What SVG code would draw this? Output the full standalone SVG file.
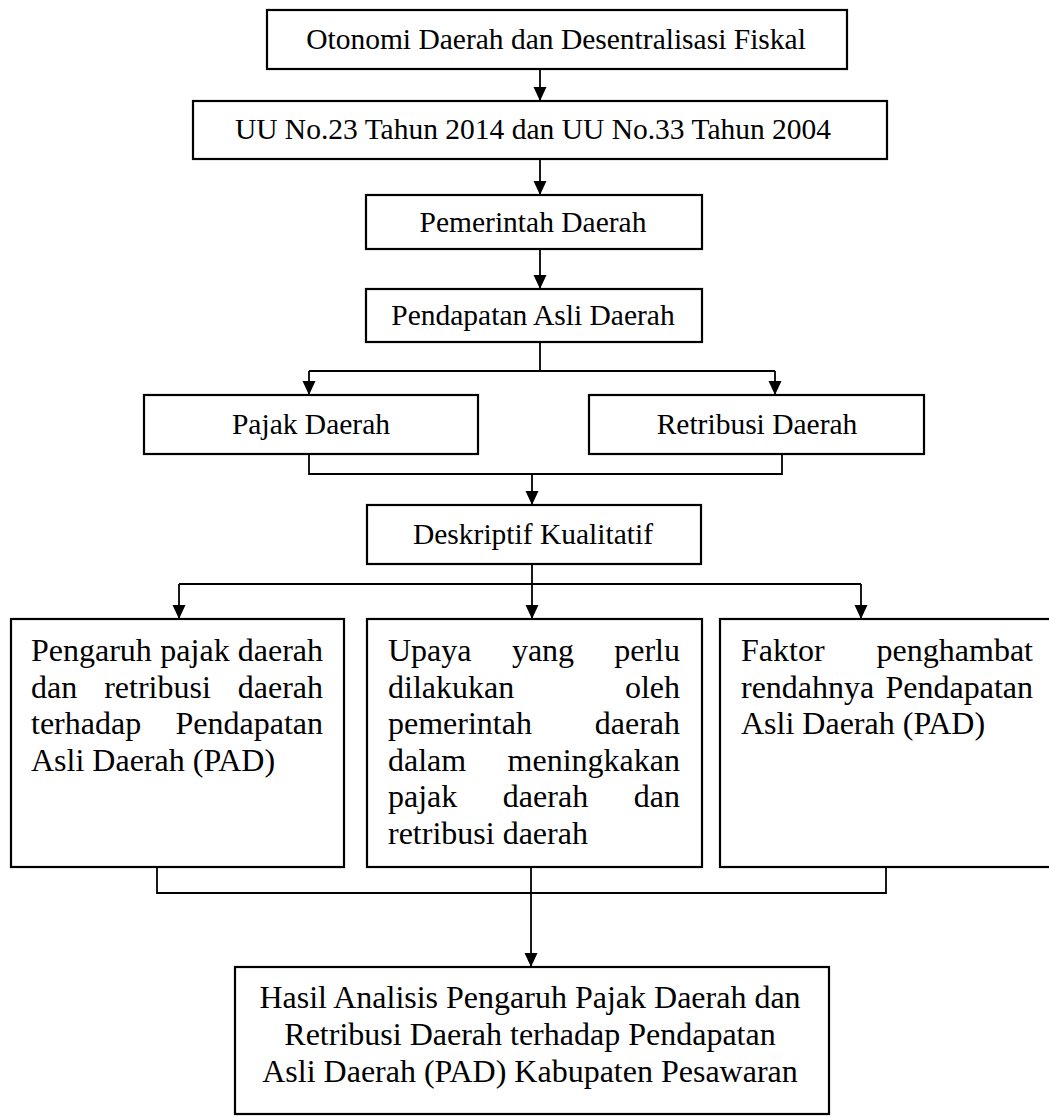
<svg xmlns="http://www.w3.org/2000/svg" width="1049" height="1117" viewBox="0 0 1049 1117">
<style>
.box{fill:#fff;stroke:#000;stroke-width:2.2}
.t{font-family:"Liberation Serif","Times New Roman",serif;fill:#000}
.u{font-size:29.5px;text-anchor:middle}
.l{font-size:32px}
.c{font-size:32px;text-anchor:middle}
.e{text-anchor:end}
.m{text-anchor:middle}
.ln{fill:none;stroke:#000;stroke-width:1.8}
</style>
<defs>
<marker id="ah" markerUnits="userSpaceOnUse" markerWidth="14" markerHeight="14" refX="14" refY="6.5" orient="auto">
<path d="M0,0 L14,6.5 L0,13 z" fill="#000"/>
</marker>
</defs>
<rect width="1049" height="1117" fill="#fff"/>
<g id="connectors">
<line class="ln" x1="540" y1="69" x2="540" y2="101" marker-end="url(#ah)"/>
<line class="ln" x1="540" y1="159" x2="540" y2="195" marker-end="url(#ah)"/>
<line class="ln" x1="540" y1="249" x2="540" y2="289" marker-end="url(#ah)"/>
<path class="ln" d="M540,342 V371 M309,371 H775"/>
<line class="ln" x1="309" y1="371" x2="309" y2="395" marker-end="url(#ah)"/>
<line class="ln" x1="775" y1="371" x2="775" y2="395" marker-end="url(#ah)"/>
<path class="ln" d="M309,454 V474 H782 V454"/>
<line class="ln" x1="532" y1="474" x2="532" y2="505" marker-end="url(#ah)"/>
<path class="ln" d="M532,564 V584 M179,584 H861"/>
<line class="ln" x1="179" y1="584" x2="179" y2="619" marker-end="url(#ah)"/>
<line class="ln" x1="532" y1="584" x2="532" y2="619" marker-end="url(#ah)"/>
<line class="ln" x1="861" y1="584" x2="861" y2="619" marker-end="url(#ah)"/>
<path class="ln" d="M157,868 V893 H886 V868"/>
<line class="ln" x1="531" y1="867" x2="531" y2="967" marker-end="url(#ah)"/>
</g>
<g id="n1">
<rect class="box" x="267" y="10" width="580" height="59"/>
<text class="t u" x="556" y="49">Otonomi Daerah dan Desentralisasi Fiskal</text>
</g>
<g id="n2">
<rect class="box" x="193" y="101" width="694" height="58"/>
<text class="t u" x="533" y="139">UU No.23 Tahun 2014 dan UU No.33 Tahun 2004</text>
</g>
<g id="n3">
<rect class="box" x="366" y="195" width="336" height="54"/>
<text class="t u" x="533" y="232">Pemerintah Daerah</text>
</g>
<g id="n4">
<rect class="box" x="366" y="289" width="336" height="53"/>
<text class="t u" x="533" y="325">Pendapatan Asli Daerah</text>
</g>
<g id="n5">
<rect class="box" x="144" y="395" width="334" height="59"/>
<text class="t u" x="311" y="434">Pajak Daerah</text>
</g>
<g id="n6">
<rect class="box" x="589" y="395" width="335" height="59"/>
<text class="t u" x="757" y="434">Retribusi Daerah</text>
</g>
<g id="n7">
<rect class="box" x="367" y="505" width="334" height="59"/>
<text class="t u" x="533" y="544">Deskriptif Kualitatif</text>
</g>
<g id="n8">
<rect class="box" x="11" y="619" width="333" height="248"/>
<text class="t l" x="31" y="661">Pengaruh</text>
<text class="t l m" x="195" y="661">pajak</text>
<text class="t l e" x="323" y="661">daerah</text>
<text class="t l" x="31" y="697.5">dan</text>
<text class="t l m" x="157.5" y="697.5">retribusi</text>
<text class="t l e" x="323" y="697.5">daerah</text>
<text class="t l" x="31" y="734">terhadap</text>
<text class="t l e" x="323" y="734">Pendapatan</text>
<text class="t l" x="31" y="770.5">Asli Daerah (PAD)</text>
</g>
<g id="n9">
<rect class="box" x="367" y="619" width="335" height="248"/>
<text class="t l" x="388" y="661">Upaya</text>
<text class="t l m" x="543" y="661">yang</text>
<text class="t l e" x="680" y="661">perlu</text>
<text class="t l" x="388" y="697.5">dilakukan</text>
<text class="t l e" x="680" y="697.5">oleh</text>
<text class="t l" x="388" y="734">pemerintah</text>
<text class="t l e" x="680" y="734">daerah</text>
<text class="t l" x="388" y="770.5">dalam</text>
<text class="t l e" x="680" y="770.5">meningkakan</text>
<text class="t l" x="388" y="807">pajak</text>
<text class="t l m" x="545.5" y="807">daerah</text>
<text class="t l e" x="680" y="807">dan</text>
<text class="t l" x="388" y="843.5">retribusi daerah</text>
</g>
<g id="n10">
<rect class="box" x="720" y="619" width="334" height="248"/>
<text class="t l" x="741" y="661">Faktor</text>
<text class="t l e" x="1033" y="661">penghambat</text>
<text class="t l" x="741" y="697.5">rendahnya</text>
<text class="t l e" x="1033" y="697.5">Pendapatan</text>
<text class="t l" x="741" y="734">Asli Daerah (PAD)</text>
</g>
<g id="n11">
<rect class="box" x="235" y="967" width="594" height="147"/>
<text class="t c" x="530" y="1008">Hasil Analisis Pengaruh Pajak Daerah dan</text>
<text class="t c" x="530" y="1045">Retribusi Daerah terhadap Pendapatan</text>
<text class="t c" x="530" y="1082">Asli Daerah (PAD) Kabupaten Pesawaran</text>
</g>
</svg>
